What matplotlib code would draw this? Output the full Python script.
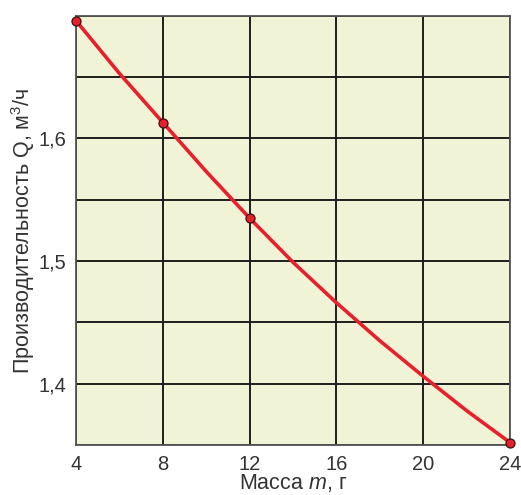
import numpy as np
import matplotlib.pyplot as plt

plt.rcParams['font.family'] = ['Liberation Sans', 'DejaVu Sans']
plt.rcParams['mathtext.fontset'] = 'custom'
plt.rcParams['mathtext.rm'] = 'Liberation Sans'
plt.rcParams['mathtext.it'] = 'Liberation Sans:italic'

# measured points (markers)
mass_pts = [4, 8, 12, 24]
q_pts = [1.696, 1.613, 1.535, 1.352]

# curve
mass_curve = [4, 6, 8, 10, 12, 14, 16, 18, 20, 22, 24]
q_curve = [1.696, 1.653, 1.613, 1.573, 1.535, 1.499, 1.466, 1.435, 1.406, 1.378, 1.352]

x_ticks = [4, 8, 12, 16, 20, 24]
y_ticks = [1.35, 1.40, 1.45, 1.50, 1.55, 1.60, 1.65, 1.70]
y_labels = ['', '1,4', '', '1,5', '', '1,6', '', '']

fig = plt.figure(figsize=(5.21, 4.95), dpi=100)
ax = fig.add_axes([0.146, 0.101, 0.833, 0.867])
ax.set_facecolor('#F0F3D5')

ax.plot(mass_curve, q_curve, color='#E6212B', lw=2.6, zorder=3,
        solid_capstyle='round', solid_joinstyle='round')
ax.plot(mass_pts, q_pts, 'o', color='#E6212B', markeredgecolor='#3a1010',
        markeredgewidth=0.9, markersize=6.5, zorder=4, clip_on=False)

ax.set_xlim(4, 24)
ax.set_ylim(1.35, 1.70)
ax.set_xticks(x_ticks)
ax.set_yticks(y_ticks)
ax.set_yticklabels(y_labels)
ax.grid(True, color='#1e1e1e', lw=1.4)
ax.set_axisbelow(True)
for s in ax.spines.values():
    s.set_color('#555555')
    s.set_linewidth(1.3)
ax.tick_params(length=0, labelsize=14.5, colors='#333333', pad=7)

ax.set_xlabel('Масса $m$, г', fontsize=15.5, color='#333333', labelpad=-1)
ax.set_ylabel('Производительность Q, м$^3$/ч', fontsize=15.5, color='#333333', labelpad=1)

fig.savefig('out.png', dpi=100)
